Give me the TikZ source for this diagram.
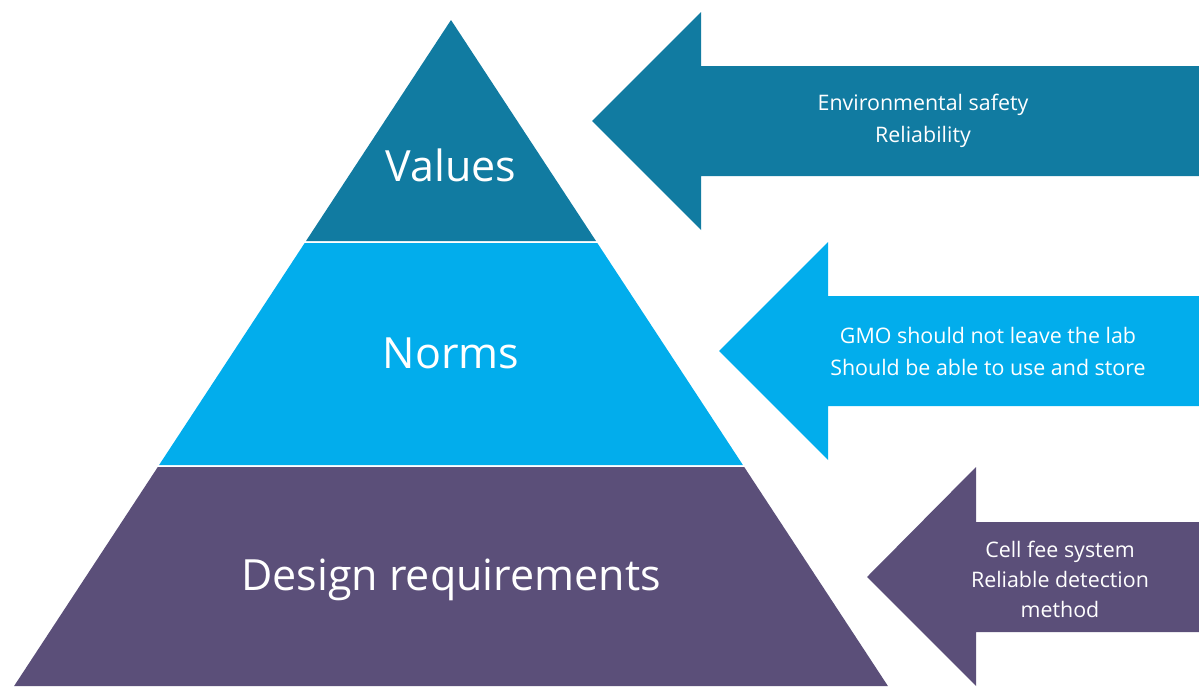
\documentclass[tikz,border=0pt]{standalone}
\usepackage{fontspec}
\setmainfont{Open Sans}
\usetikzlibrary{positioning}
\definecolor{valuesteal}{HTML}{117BA1}
\definecolor{normsblue}{HTML}{02ADEC}
\definecolor{designpurple}{HTML}{5B4F79}

\begin{document}
\begin{tikzpicture}[x=1pt,y=-1pt,
  layer/.style={text=white,inner sep=0pt,font=\fontsize{43}{50}\selectfont},
  note/.style={text=white,align=center,inner sep=0pt,font=\fontsize{21.4}{32}\selectfont}]
  \useasboundingbox (0,0) rectangle (1199,686);
  % pyramid
  \fill[valuesteal]   (451,20) -- (596,241) -- (306,241) -- cycle;
  \fill[normsblue]    (304.7,243) -- (597.3,243) -- (742.9,465) -- (159.1,465) -- cycle;
  \fill[designpurple] (157.8,467) -- (744.2,467) -- (887.9,686) -- (14.1,686) -- cycle;
  \node[layer] (lValues) at (451,165) {Values};
  \node[layer] (lNorms)  at (451,353) {Norms};
  \node[layer] (lDesign) at (451,580) {Design requirements};
  % arrows
  \fill[valuesteal]   (592,121) -- (701,12) -- (701,66) -- (1199,66) -- (1199,176) -- (701,176) -- (701,230) -- cycle;
  \fill[normsblue]    (719,351) -- (828,242) -- (828,296) -- (1199,296) -- (1199,406) -- (828,406) -- (828,460) -- cycle;
  \fill[designpurple] (867,577) -- (976,467) -- (976,522) -- (1199,522) -- (1199,632) -- (976,632) -- (976,686) -- cycle;
  \node[note] (nValues) at (923,121) {Environmental safety\\Reliability};
  \node[note] (nNorms)  at (988,351) {GMO should not leave the lab\\Should be able to use and store};
  \node[note,font=\fontsize{21.4}{30}\selectfont] (nDesign) at (1060,579) {Cell fee system\\Reliable detection\\method};
\end{tikzpicture}
\end{document}
